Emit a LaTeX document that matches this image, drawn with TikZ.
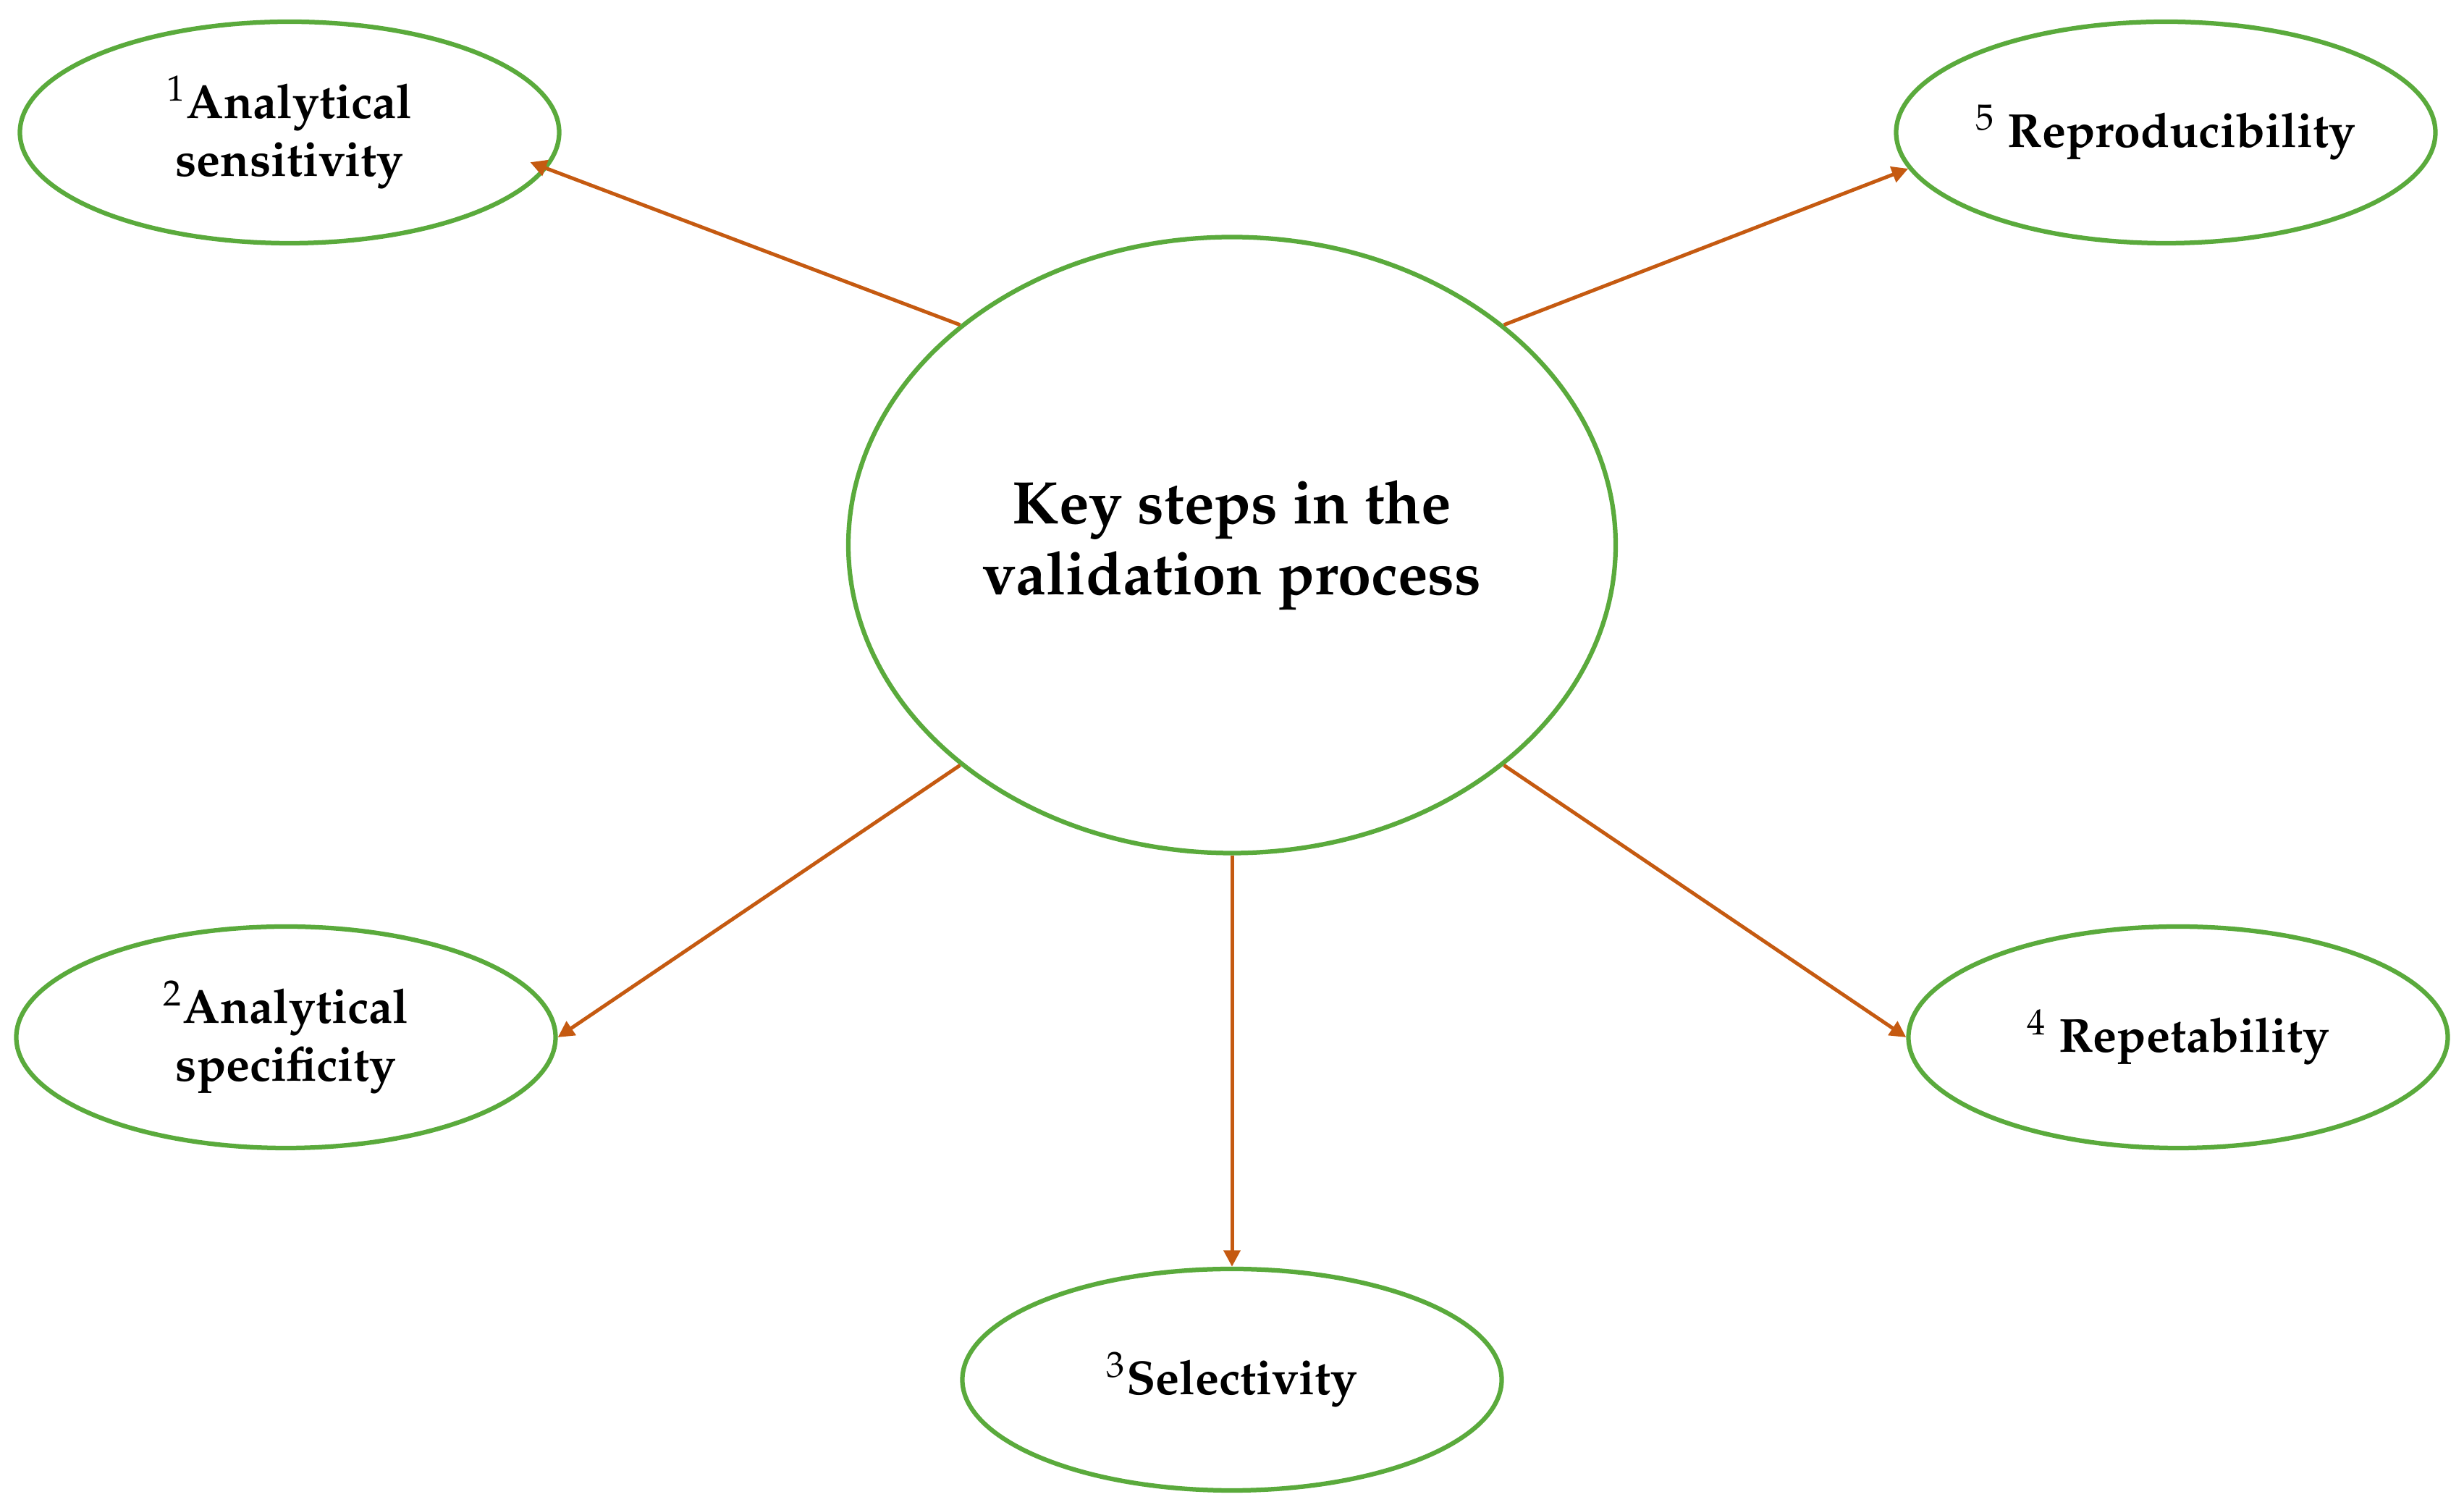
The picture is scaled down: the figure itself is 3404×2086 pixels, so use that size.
\documentclass[tikz,border=0pt]{standalone}
\usepackage[T1]{fontenc}
\usepackage{mathpazo}
\usetikzlibrary{shapes.geometric,arrows.meta}

\definecolor{stepgreen}{RGB}{90,170,60}
\definecolor{linkorange}{RGB}{197,90,17}

\tikzset{every picture/.style={line width=0.75pt}}
\tikzset{
  keyoval/.style={ellipse,draw=stepgreen,line width=1.25pt,inner sep=0pt,align=center,
    minimum width=212pt,minimum height=170.2pt,font=\fontsize{16.6}{19.6}\selectfont\bfseries},
  stepoval/.style={ellipse,draw=stepgreen,line width=1.25pt,inner sep=0pt,align=center,
    minimum width=149pt,minimum height=61.2pt,font=\fontsize{13.2}{16}\selectfont\bfseries},
  linkarrow/.style={draw=linkorange,line width=1pt,-{Triangle[length=4.5pt,width=4.5pt]}}
}
\newcommand{\stepno}[1]{\textsuperscript{\mdseries #1}}

\begin{document}
\begin{tikzpicture}[x=0.2pt,y=0.2pt,yscale=-1,xscale=1]
\useasboundingbox (0,0) rectangle (3404,2086);

%Shape: Ellipse [id:key]
\node [keyoval] (key) at (1702,753) {Key steps in the\\validation process};

%Shape: Ellipse [id:sens]
\node [stepoval] (sens) at (400,183) {\stepno{1}Analytical\\sensitivity};
%Shape: Ellipse [id:repro]
\node [stepoval] (repro) at (2992,183) {\stepno{5} Reproducibility};
%Shape: Ellipse [id:spec]
\node [stepoval] (spec) at (395,1433) {\stepno{2}Analytical\\specificity};
%Shape: Ellipse [id:rep]
\node [stepoval] (rep) at (3009,1433) {\stepno{4} Repetability};
%Shape: Ellipse [id:sel]
\node [stepoval] (sel) at (1702,1906) {\stepno{3}Selectivity};

%Straight Lines
\draw [linkarrow, shorten >=-5pt] (key.141) -- (sens.-8) ;
%Straight Lines
\draw [linkarrow] (key.39) -- (repro.188) ;
%Straight Lines
\draw [linkarrow] (key.219) -- (spec.east) ;
%Straight Lines
\draw [linkarrow] (key.321) -- (rep.west) ;
%Straight Lines
\draw [linkarrow] (key.south) -- (sel.north) ;

\end{tikzpicture}
\end{document}
